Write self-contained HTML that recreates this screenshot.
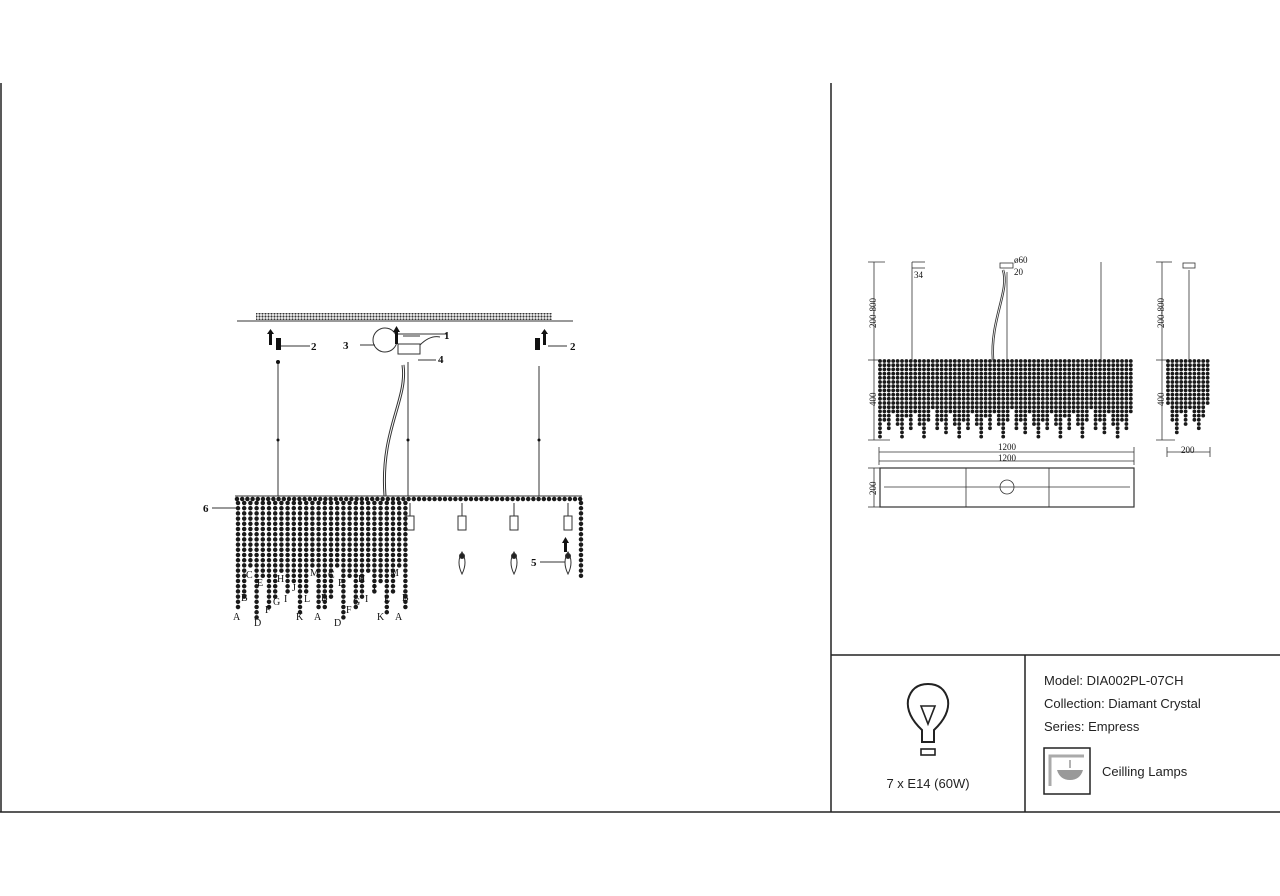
<!DOCTYPE html>
<html><head><meta charset="utf-8"><style>
html,body{margin:0;padding:0;background:#fff;}
svg{display:block;font-family:"Liberation Sans",sans-serif;}
.s{font-family:"Liberation Serif",serif;}
</style></head><body>
<svg id="g" width="1280" height="896" viewBox="0 0 1280 896" xmlns="http://www.w3.org/2000/svg">
<defs>
<pattern id="hatch" width="3" height="3" patternUnits="userSpaceOnUse"><rect width="3" height="3" fill="#fff"/><circle cx="1.5" cy="1.5" r="1.1" fill="#333"/></pattern>
</defs>
<g stroke="#222" stroke-width="1.5" fill="none">
<line x1="1" y1="83" x2="1" y2="812"/>
<line x1="831" y1="83" x2="831" y2="812"/>
<line x1="0" y1="812" x2="1280" y2="812"/>
<line x1="831" y1="655" x2="1280" y2="655"/>
<line x1="1025" y1="655" x2="1025" y2="812"/>
</g>
<rect x="256" y="313" width="296" height="7" fill="url(#hatch)"/>
<line x1="237" y1="321" x2="573" y2="321" stroke="#333" stroke-width="1"/>
<g stroke="#333" stroke-width="1" fill="none">
<line x1="278" y1="360" x2="278" y2="496"/>
<line x1="408" y1="362" x2="408" y2="496"/>
<line x1="539" y1="366" x2="539" y2="496"/>
<path d="M403 365 C 408 400, 380 430, 385 496" stroke-width="3"/>
<path d="M403 365 C 408 400, 380 430, 385 496" stroke="#fff" stroke-width="1"/>
<circle cx="385" cy="340" r="12"/>
<rect x="398" y="344" width="22" height="10"/>
<path d="M420 345 q10 -10 20 -8"/>
<line x1="403" y1="336" x2="420" y2="336"/>
<line x1="396" y1="334" x2="447" y2="334"/>
<line x1="280" y1="346" x2="310" y2="346"/>
<line x1="548" y1="346" x2="567" y2="346"/>
<line x1="360" y1="345" x2="375" y2="345"/>
<line x1="418" y1="360" x2="436" y2="360"/>
<line x1="212" y1="508" x2="237" y2="508"/>
<line x1="540" y1="562" x2="565" y2="562"/>
<line x1="235" y1="496" x2="582" y2="496"/>
</g>
<g fill="#111">
<rect x="269" y="331" width="3" height="14"/><polygon points="267,334 270.5,329 274,334"/>
<rect x="276" y="338" width="5" height="12"/>
<rect x="543" y="331" width="3" height="14"/><polygon points="541,334 544.5,329 548,334"/>
<rect x="535" y="338" width="5" height="12"/>
<rect x="395" y="330" width="3" height="14"/><polygon points="393,332 396.5,326 400,332"/>
<rect x="564" y="540" width="3" height="12"/><polygon points="562,543 565.5,537 569,543"/>
<circle cx="278" cy="362" r="2"/><circle cx="278" cy="440" r="1.5"/><circle cx="408" cy="440" r="1.5"/><circle cx="539" cy="440" r="1.5"/>
</g>
<g font-size="11" class="s" fill="#111" font-weight="bold">
<text x="444" y="339">1</text><text x="311" y="350">2</text><text x="570" y="350">2</text>
<text x="343" y="349">3</text><text x="438" y="363">4</text><text x="531" y="566">5</text><text x="203" y="512">6</text>
</g>
<g id="lamps" fill="none" stroke="#333" stroke-width="1"></g>
<g id="beads"></g>
<g class="s" font-size="10" fill="#111">
<text x="233" y="620">A</text><text x="241" y="601">B</text><text x="246" y="578">C</text><text x="254" y="626">D</text><text x="257" y="586">E</text><text x="265" y="613">F</text><text x="273" y="605">G</text><text x="277" y="582">H</text><text x="284" y="602">I</text><text x="292" y="591">J</text><text x="296" y="620">K</text><text x="304" y="602">L</text><text x="310" y="576">M</text>
<text x="314" y="620">A</text><text x="321" y="601">B</text><text x="328" y="578">C</text><text x="334" y="626">D</text><text x="338" y="586">E</text><text x="346" y="613">F</text><text x="353" y="605">G</text><text x="358" y="582">H</text><text x="365" y="602">I</text><text x="372" y="591">J</text><text x="377" y="620">K</text><text x="384" y="602">L</text><text x="390" y="576">M</text><text x="395" y="620">A</text><text x="402" y="601">B</text>
</g>
<g stroke="#333" stroke-width="0.8" fill="none">
<line x1="874" y1="262" x2="874" y2="440"/><line x1="868" y1="262" x2="885" y2="262"/><line x1="868" y1="360" x2="880" y2="360"/><line x1="868" y1="440" x2="890" y2="440"/>
<line x1="912" y1="262" x2="912" y2="360"/><line x1="912" y1="262" x2="925" y2="262"/><line x1="912" y1="268" x2="925" y2="268"/>
<line x1="1007" y1="272" x2="1007" y2="360"/><line x1="1101" y1="262" x2="1101" y2="360"/>
<path d="M1003 270 C 1010 290, 990 320, 993 360" stroke-width="2.5"/><path d="M1003 270 C 1010 290, 990 320, 993 360" stroke="#fff" stroke-width="0.8"/>
<rect x="1000" y="263" width="13" height="5"/>
<line x1="879" y1="452" x2="1134" y2="452"/><line x1="879" y1="461" x2="1134" y2="461"/>
<line x1="879" y1="447" x2="879" y2="465"/><line x1="1134" y1="447" x2="1134" y2="465"/>
<rect x="880" y="468" width="254" height="39" stroke-width="1.2"/>
<line x1="966" y1="468" x2="966" y2="507"/><line x1="1049" y1="468" x2="1049" y2="507"/>
<line x1="884" y1="487" x2="1130" y2="487"/><circle cx="1007" cy="487" r="7"/>
<line x1="874" y1="468" x2="874" y2="507"/><line x1="868" y1="468" x2="880" y2="468"/><line x1="868" y1="507" x2="880" y2="507"/>
<line x1="1162" y1="262" x2="1162" y2="440"/><line x1="1156" y1="262" x2="1172" y2="262"/><line x1="1156" y1="360" x2="1168" y2="360"/><line x1="1156" y1="440" x2="1175" y2="440"/>
<line x1="1189" y1="270" x2="1189" y2="360"/><rect x="1183" y="263" width="12" height="5"/>
<line x1="1167" y1="452" x2="1210" y2="452"/><line x1="1167" y1="447" x2="1167" y2="457"/><line x1="1210" y1="447" x2="1210" y2="457"/>
</g>
<g class="s" font-size="9" fill="#111">
<text x="998" y="450">1200</text><text x="998" y="461">1200</text><text x="1181" y="453">200</text>
<text x="914" y="278">34</text><text x="1014" y="263">ø60</text><text x="1014" y="275">20</text>
<text transform="translate(876,328) rotate(-90)">200-800</text><text transform="translate(876,406) rotate(-90)">400</text><text transform="translate(876,495) rotate(-90)">200</text>
<text transform="translate(1164,328) rotate(-90)">200-800</text><text transform="translate(1164,406) rotate(-90)">400</text>
</g>
<g id="beads2"></g>
<g fill="none" stroke="#222" stroke-width="2">
<path d="M922 742 L922 730 Q906 715 908 700 Q912 684 928 684 Q944 684 948 700 Q950 715 934 730 L934 742 Z"/>
<polygon points="921,706 935,706 928,724" stroke-width="1.6"/>
<rect x="921" y="749" width="14" height="6" stroke-width="1.6"/>
<rect x="1044" y="748" width="46" height="46" stroke-width="1.5"/>
</g>
<path d="M1050 786 V756 H1084" stroke="#aaa" stroke-width="3" fill="none"/>
<path d="M1057 770 H1083 Q1080 780 1070 780 Q1060 780 1057 770Z" fill="#999"/>
<line x1="1070" y1="760" x2="1070" y2="768" stroke="#999" stroke-width="1.5"/>
<g font-size="13" fill="#222">
<text x="928" y="788" text-anchor="middle">7 x E14 (60W)</text>
<text x="1044" y="685">Model: DIA002PL-07CH</text>
<text x="1044" y="708">Collection: Diamant Crystal</text>
<text x="1044" y="731">Series: Empress</text>
<text x="1102" y="776">Ceilling Lamps</text>
</g>
</svg>
<script>
var NS="http://www.w3.org/2000/svg";
function chain(parent,x,y1,y2,w,gap){var l=document.createElementNS(NS,"line");l.setAttribute("x1",x);l.setAttribute("x2",x);l.setAttribute("y1",y1);l.setAttribute("y2",y2);l.setAttribute("stroke","#1a1a1a");l.setAttribute("stroke-width",w);l.setAttribute("stroke-linecap","round");l.setAttribute("stroke-dasharray","0 "+gap);parent.appendChild(l);}
function hchain(parent,x1,x2,y,w,gap){var l=document.createElementNS(NS,"line");l.setAttribute("x1",x1);l.setAttribute("x2",x2);l.setAttribute("y1",y);l.setAttribute("y2",y);l.setAttribute("stroke","#1a1a1a");l.setAttribute("stroke-width",w);l.setAttribute("stroke-linecap","round");l.setAttribute("stroke-dasharray","0 "+gap);parent.appendChild(l);}
var b=document.getElementById("beads");
hchain(b,237,581,499,4.5,5.2);
var xs=[];for(var x=238;x<=408;x+=6.2)xs.push(x);
var E=[612,598,568,622,580,607,600,575,592,586,614,596,570,612];
for(var i=0;i<xs.length;i++){chain(b,xs[i],503,E[i%E.length],4.5,5.2);}
chain(b,581,503,578,4.5,5.2);
var lp=document.getElementById("lamps");
[410,462,514,568].forEach(function(x,i){var r=document.createElementNS(NS,"rect");r.setAttribute("x",x-4);r.setAttribute("y",516);r.setAttribute("width",8);r.setAttribute("height",14);lp.appendChild(r);
var ln=document.createElementNS(NS,"line");ln.setAttribute("x1",x);ln.setAttribute("x2",x);ln.setAttribute("y1",503);ln.setAttribute("y2",516);lp.appendChild(ln);
if(i>0){var e=document.createElementNS(NS,"path");e.setAttribute("d","M"+x+" 552 q-6 10 0 22 q6 -12 0 -22z");lp.appendChild(e);var c=document.createElementNS(NS,"circle");c.setAttribute("cx",x);c.setAttribute("cy",556);c.setAttribute("r",2.5);c.setAttribute("fill","#222");lp.appendChild(c);}});
var b2=document.getElementById("beads2");
var ends=[437,420,430,412,425,440,418,432,415,428,437,422,410,430,420,436,414,426];
var j=0;for(var x=880;x<=1133;x+=4.4){chain(b2,x,361,ends[j%ends.length],3.8,4.2);j++;}
j=3;for(var x=1168;x<=1210;x+=4.4){chain(b2,x,361,ends[j%ends.length]-5,3.8,4.2);j++;}
</script>
</body></html>
